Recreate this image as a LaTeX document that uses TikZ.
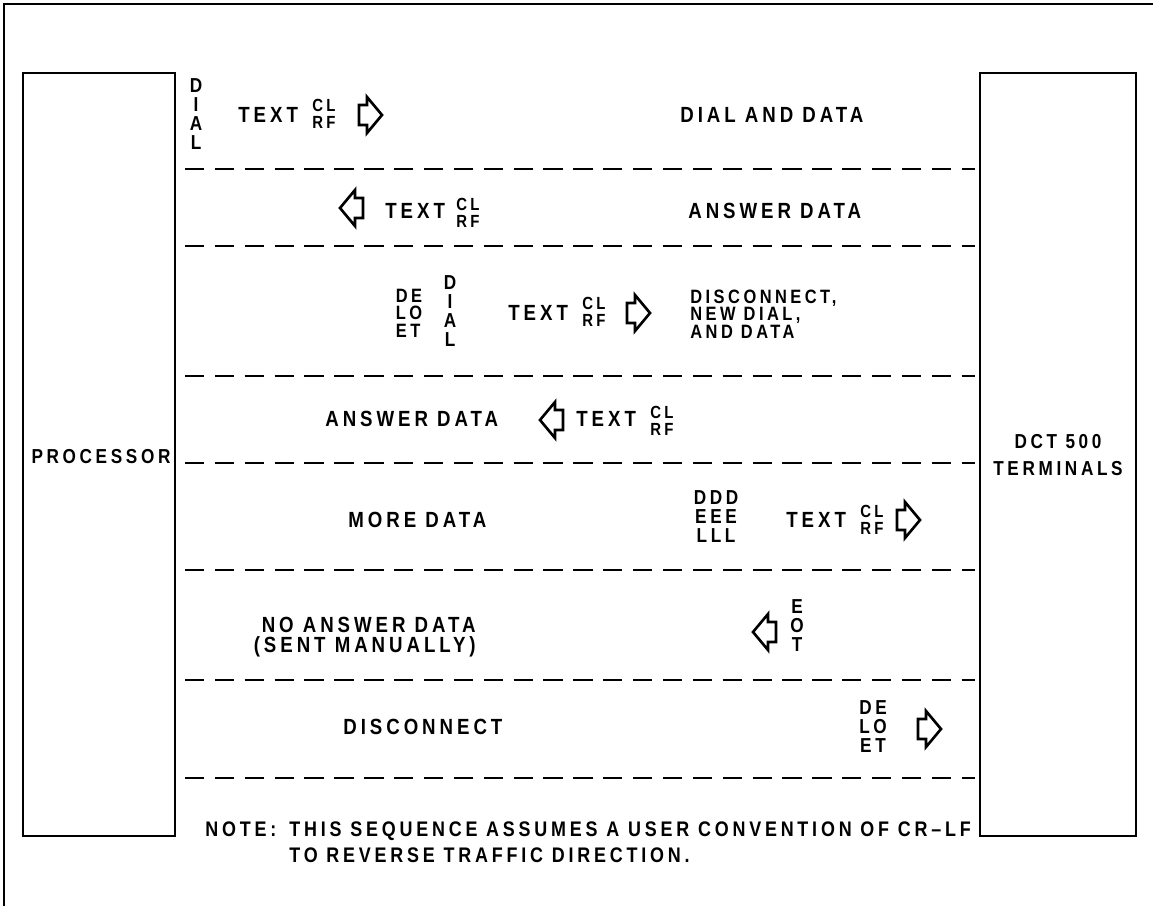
\documentclass[tikz,border=0pt]{standalone}
\usepackage{fontspec}
\newfontfamily\stencil{Liberation Sans}[LetterSpace=18, FakeStretch=0.85]
\newfontfamily\notefont{Liberation Sans}[LetterSpace=18, FakeStretch=0.85]
\tikzset{
  lbl/.style={font=\stencil\bfseries\fontsize{12.5}{13}\selectfont, inner sep=0pt},
  boxlbl/.style={font=\stencil\bfseries\fontsize{11.5}{13}\selectfont, inner sep=0pt, align=center},
  crlf/.style={font=\stencil\bfseries\fontsize{10}{10}\selectfont, inner sep=0pt, align=left},
  vstack/.style={font=\stencil\bfseries\fontsize{11.5}{10.8}\selectfont, inner sep=0pt, align=center},
  block/.style={font=\stencil\bfseries\fontsize{11}{10}\selectfont, inner sep=0pt, align=left},
  notelbl/.style={font=\notefont\bfseries\fontsize{12}{13}\selectfont, inner sep=0pt},
  edge/.style={line width=1pt},
  divider/.style={line width=1pt, dash pattern=on 11pt off 6pt},
  fwd/.pic={\draw[line width=1.5pt, line join=miter] (-11,-10) -- (-3,-10) -- (-3,-18) -- (12,0) -- (-3,18) -- (-3,10) -- (-11,10) -- cycle;},
  back/.pic={\draw[line width=1.5pt, line join=miter] (11,-10) -- (3,-10) -- (3,-18) -- (-12,0) -- (3,18) -- (3,10) -- (11,10) -- cycle;}
}
\begin{document}
\begin{tikzpicture}[x=0.02cm, y=-0.02cm]
  \useasboundingbox (0,0) rectangle (1153,906);
  \draw[line width=1.2pt] (4,906) -- (4,4) -- (1153,4);
  \draw[edge] (23,73) rectangle (175,836);
  \draw[edge] (980,73) rectangle (1136,836);
  \foreach \y in {169,246,376,463,570,680,778}
    \draw[divider] (185,\y) -- (975,\y);

  \node[boxlbl] (proc) at (101,457) {PROCESSOR};
  \node[boxlbl] (term) at (1058,455) {DCT 500\\[2pt]TERMINALS};

  \node[vstack] (dial1) at (196,114) {D\\I\\A\\L};
  \node[lbl, anchor=west] (text1) at (238,115) {TEXT};
  \node[crlf] (crlf1) at (324,114) {CL\\RF};
  \pic at (370,115) {fwd};
  \node[lbl, anchor=west] (info1) at (680,115) {DIAL AND DATA};

  \pic at (352,208) {back};
  \node[lbl, anchor=west] (text2) at (385,211) {TEXT};
  \node[crlf] (crlf2) at (468,213) {CL\\RF};
  \node[lbl, anchor=west] (info2) at (688,211) {ANSWER DATA};

  \node[block] (del3) at (409,313) {DE\\LO\\ET};
  \node[vstack] (dial3) at (450,311) {D\\I\\A\\L};
  \node[lbl, anchor=west] (text3) at (508,313) {TEXT};
  \node[crlf] (crlf3) at (594,312) {CL\\RF};
  \pic at (638,313) {fwd};
  \node[block] (info3) [anchor=west] at (690,314) {DISCONNECT,\\NEW DIAL,\\AND DATA};

  \node[lbl, anchor=west] (info4) at (325,419) {ANSWER DATA};
  \pic at (552,420) {back};
  \node[lbl, anchor=west] (text4) at (576,419) {TEXT};
  \node[crlf] (crlf4) at (662,421) {CL\\RF};

  \node[lbl, anchor=west] (info5) at (348,520) {MORE DATA};
  \node[vstack] (del5) at (716,517) {DDD\\EEE\\LLL};
  \node[lbl, anchor=west] (text5) at (786,520) {TEXT};
  \node[crlf] (crlf5) at (872,520) {CL\\RF};
  \pic at (908,520) {fwd};

  \node[lbl, align=right, anchor=east] (info6) at (476,637) {NO ANSWER DATA\\[-2pt](SENT MANUALLY)};
  \pic at (765,632) {back};
  \node[vstack] (eot6) at (797,626) {E\\O\\T};

  \node[lbl, anchor=west] (info7) at (343,727) {DISCONNECT};
  \node[vstack] (del7) at (873,727) {DE\\LO\\ET};
  \pic at (929,729) {fwd};

  \node[notelbl, anchor=west] (note) at (205,829) {NOTE:};
  \node[notelbl, align=left, anchor=north west] (notetext) at (289,821) {THIS SEQUENCE ASSUMES A USER CONVENTION OF CR\textendash LF\\[2pt]TO REVERSE TRAFFIC DIRECTION.};
\end{tikzpicture}
\end{document}
